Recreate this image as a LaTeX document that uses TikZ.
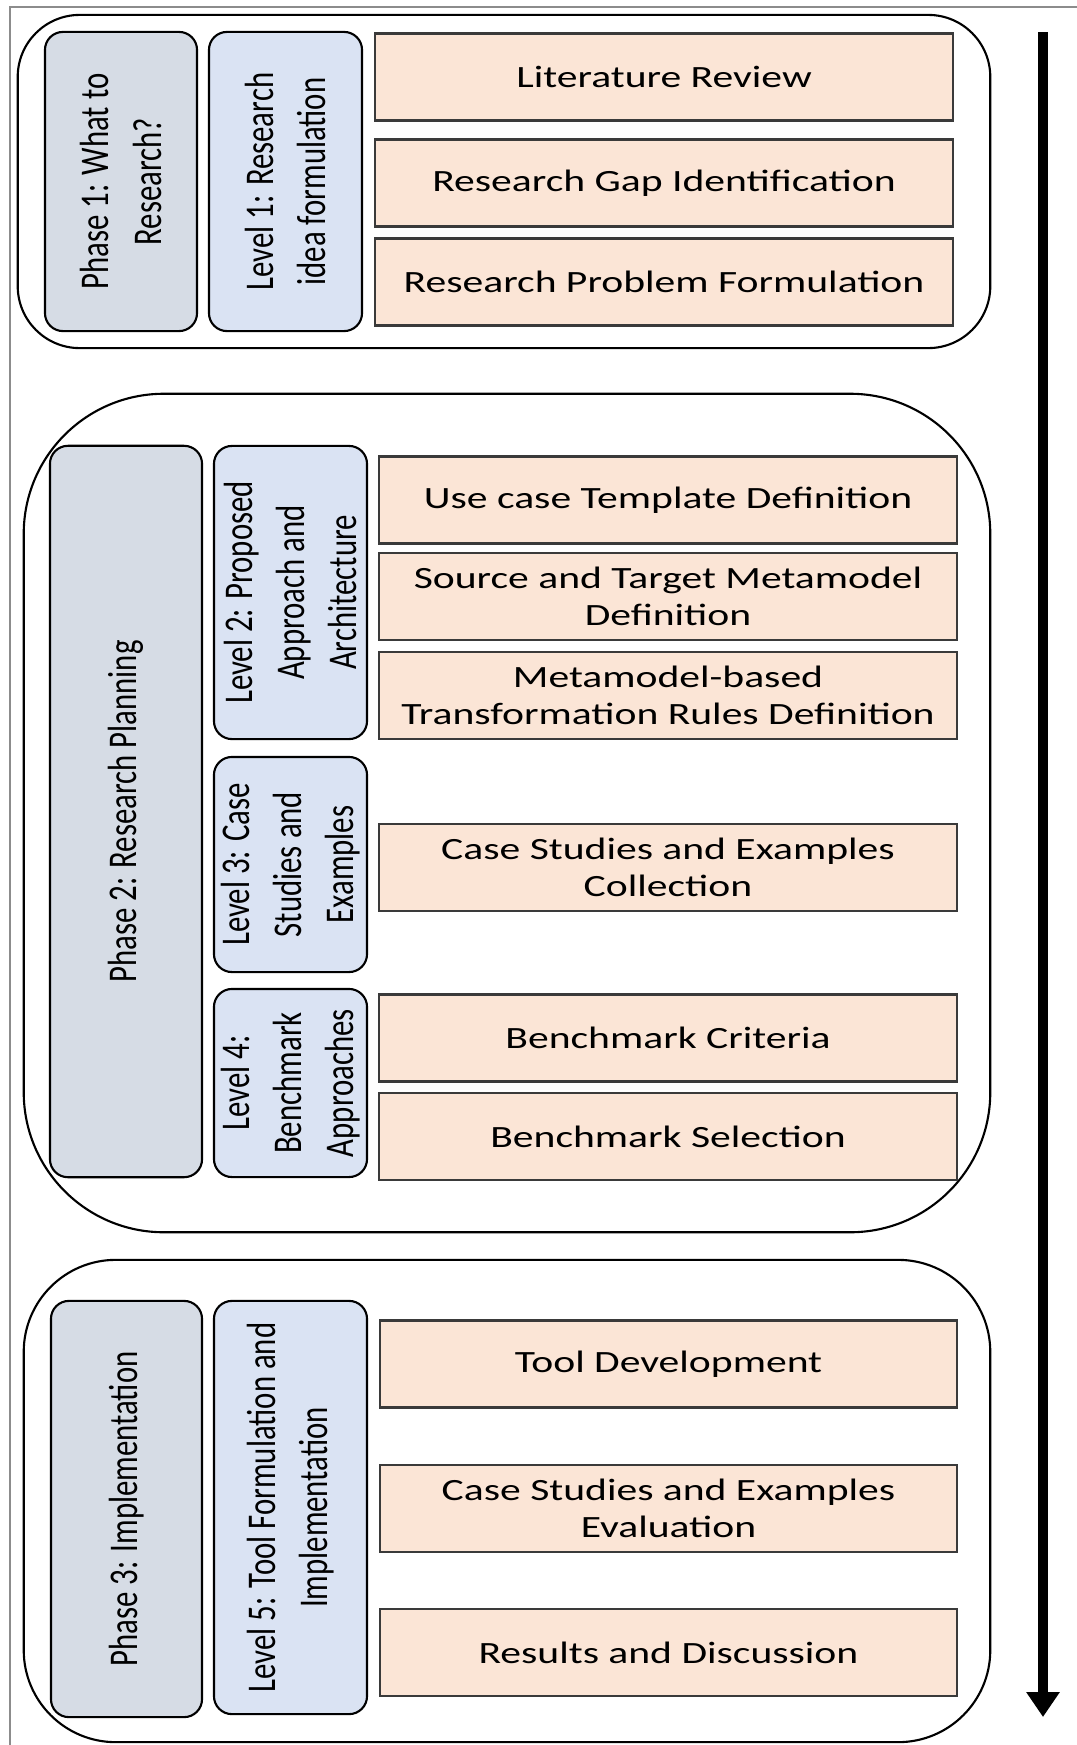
\documentclass[tikz,border=0pt]{standalone}
\usepackage{fontspec}
\newfontfamily\taskfont[FakeStretch=1.345]{Carlito}
\newfontfamily\sidefont[FakeStretch=0.755]{Carlito}
\usepackage{xcolor}
\definecolor{phaseFill}{HTML}{D6DCE5}
\definecolor{levelFill}{HTML}{DAE3F3}
\definecolor{taskFill}{HTML}{FBE5D6}
\definecolor{taskBorder}{HTML}{3A3A3A}
\definecolor{frameGray}{HTML}{8C8C8C}
\usepackage{tikz}
\usetikzlibrary{arrows.meta,positioning}
\tikzset{
    stage/.style={
        draw=black,
        rectangle,
        inner sep=0pt,
        line width=0.6pt
    },
    phase/.style={
        draw=black,
        fill=phaseFill,
        rectangle,
        rounded corners=0.18cm,
        rotate=90,
        inner sep=0pt,
        line width=0.6pt,
        align=center,
        font=\sidefont\fontsize{11.6}{14.8}\selectfont
    },
    level/.style={
        phase,
        fill=levelFill
    },
    task/.style={
        draw=taskBorder,
        fill=taskFill,
        rectangle,
        inner sep=0pt,
        line width=0.6pt,
        minimum width=5.77cm,
        minimum height=0.87cm,
        align=center,
        font=\taskfont\fontsize{8.8}{10.4}\selectfont
    },
    flow/.style={
        -{Triangle[width=0.32cm,length=0.25cm]},
        line width=0.1cm,
        color=black
    }
}

\begin{document}
\begin{tikzpicture}[x=0.01cm, y=0.01cm]
    \useasboundingbox (0,0) rectangle (1077,-1745);
    % page frame
    \draw[frameGray, line width=0.4pt] (10,-1745) |- (1077,-7);

    % Phase 1
    \node[stage, rounded corners=0.62cm, minimum width=9.72cm, minimum height=3.33cm] (stage1) at (504,-181.5) {};
    \node[phase, minimum width=2.99cm, minimum height=1.52cm] (ph1) at (121,-181.5) {Phase 1: What to\\Research?};
    \node[level, minimum width=2.99cm, minimum height=1.53cm] (lv1) at (285.5,-181.5) {Level 1: Research\\idea formulation};
    \node[task] (litrev) at (664,-77) {Literature Review};
    \node[task] (gapid) at (664,-183) {Research Gap Identification};
    \node[task] (probform) at (664,-282) {Research Problem Formulation};

    % Phase 2
    \node[stage, rounded corners=1.4cm, minimum width=9.66cm, minimum height=8.38cm] (stage2) at (507,-813) {};
    \node[phase, minimum width=7.31cm, minimum height=1.52cm] (ph2) at (126,-811.5) {Phase 2: Research Planning};
    \node[level, minimum width=2.93cm, minimum height=1.53cm] (lv2) at (290.5,-592.5) {Level 2: Proposed\\Approach and\\Architecture};
    \node[level, minimum width=2.15cm, minimum height=1.53cm] (lv3) at (290.5,-864.5) {Level 3: Case\\Studies and\\Examples};
    \node[level, minimum width=1.88cm, minimum height=1.53cm] (lv4) at (290.5,-1083) {Level 4:\\Benchmark\\Approaches};
    \node[task] (usecase) at (668,-500) {Use case Template Definition};
    \node[task] (metadef) at (668,-596.5) {Source and Target Metamodel\\Definition};
    \node[task] (rules) at (668,-695.5) {Metamodel-based\\Transformation Rules Definition};
    \node[task] (casecoll) at (668,-867.5) {Case Studies and Examples\\Collection};
    \node[task] (criteria) at (668,-1038) {Benchmark Criteria};
    \node[task] (benchsel) at (668,-1136.5) {Benchmark Selection};

    % Phase 3
    \node[stage, rounded corners=0.92cm, minimum width=9.66cm, minimum height=4.82cm] (stage3) at (507,-1501) {};
    \node[phase, minimum width=4.16cm, minimum height=1.51cm] (ph3) at (126.5,-1509) {Phase 3: Implementation};
    \node[level, minimum width=4.13cm, minimum height=1.53cm] (lv5) at (290.5,-1507.5) {Level 5: Tool Formulation and\\Implementation};
    \node[task] (tooldev) at (668.5,-1364) {Tool Development};
    \node[task] (caseeval) at (668.5,-1508.5) {Case Studies and Examples\\Evaluation};
    \node[task] (results) at (668.5,-1652.5) {Results and Discussion};

    % time flow
    \coordinate (flowtop) at (1043,-32);
    \coordinate (flowend) at (1043,-1717);
    \draw[flow] (flowtop) -- (flowend);
\end{tikzpicture}
\end{document}
